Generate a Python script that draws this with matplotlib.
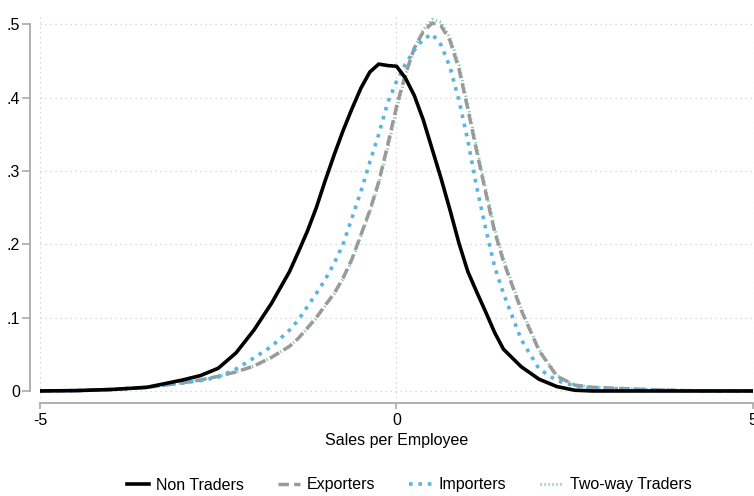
import numpy as np
import matplotlib
matplotlib.use("Agg")
import matplotlib.pyplot as plt

plt.rcParams['font.family'] = ['Liberation Sans', 'DejaVu Sans']

# shared x grid (sales per employee), finer around the peaks
x_left = [-5, -4.5, -4, -3.5, -3, -2.75, -2.5, -2.25, -2, -1.75]
x_mid = [-1.5, -1.375, -1.25, -1.125, -1, -0.875, -0.75, -0.625, -0.5,
         -0.375, -0.25, -0.125, 0, 0.125, 0.25, 0.375, 0.5, 0.625, 0.75,
         0.875, 1, 1.125, 1.25, 1.375, 1.5]
x_right = [1.75, 2, 2.25, 2.5, 2.75, 3, 3.5, 4, 4.5, 5]
x = x_left + x_mid + x_right

non_traders = ([0, 0.0005, 0.002, 0.005, 0.015, 0.021, 0.031, 0.052, 0.083, 0.120]
               + [0.163, 0.190, 0.218, 0.250, 0.287, 0.322, 0.355, 0.385, 0.413,
                  0.435, 0.446, 0.444, 0.443, 0.427, 0.403, 0.370, 0.330, 0.290,
                  0.247, 0.202, 0.163, 0.135, 0.108, 0.080, 0.057]
               + [0.033, 0.016, 0.006, 0.001, 0, 0, 0, 0, 0, 0])
exporters = ([0, 0.0005, 0.002, 0.005, 0.011, 0.015, 0.020, 0.026, 0.034, 0.046]
             + [0.061, 0.072, 0.086, 0.100, 0.117, 0.133, 0.154, 0.180, 0.213,
                0.246, 0.285, 0.335, 0.388, 0.432, 0.468, 0.490, 0.502, 0.498,
                0.478, 0.440, 0.385, 0.327, 0.271, 0.218, 0.177]
             + [0.110, 0.055, 0.020, 0.008, 0.005, 0.004, 0.002, 0.0005, 0, 0])
importers = ([0, 0.0005, 0.002, 0.005, 0.011, 0.014, 0.019, 0.030, 0.045, 0.061]
             + [0.083, 0.097, 0.115, 0.133, 0.152, 0.174, 0.200, 0.236, 0.272,
                0.312, 0.350, 0.393, 0.422, 0.446, 0.465, 0.480, 0.487, 0.472,
                0.442, 0.397, 0.342, 0.278, 0.222, 0.170, 0.133]
             + [0.070, 0.030, 0.014, 0.007, 0.004, 0.003, 0.002, 0.0005, 0, 0])
two_way = ([0, 0.0005, 0.002, 0.005, 0.011, 0.015, 0.020, 0.026, 0.034, 0.046]
           + [0.061, 0.072, 0.085, 0.099, 0.116, 0.132, 0.153, 0.178, 0.211,
              0.244, 0.282, 0.330, 0.383, 0.430, 0.467, 0.493, 0.507, 0.503,
              0.482, 0.445, 0.390, 0.332, 0.276, 0.222, 0.180]
           + [0.112, 0.056, 0.021, 0.008, 0.005, 0.004, 0.002, 0.0005, 0, 0])

yticks = [0, 0.1, 0.2, 0.3, 0.4, 0.5]
ytick_labels = ['0', '.1', '.2', '.3', '.4', '.5']
xticks = [-5, 0, 5]

fig = plt.figure(figsize=(7.54, 4.96), dpi=100)
ax = fig.add_axes([40 / 754, 97.7 / 496, 713 / 754, 384.8 / 496])

ax.plot(x, two_way, color='#7cc8b0', lw=2.2, ls=(0, (0.4, 0.9)),
        label='Two-way Traders', zorder=2)
ax.plot(x, exporters, color='#9a9a9a', lw=2.5, ls=(0, (3, 1.5)),
        label='Exporters', zorder=3)
ax.plot(x, importers, color='#5ab4e0', lw=2.6, ls=(0, (1, 1.6)),
        label='Importers', zorder=4)
ax.plot(x, non_traders, color='black', lw=2.6, label='Non Traders', zorder=5)

ax.set_xlim(-5, 5)
ax.set_ylim(-0.01, 0.515)
ax.set_yticks(yticks)
ax.set_yticklabels(ytick_labels)
ax.set_xticks(xticks)
ax.set_xticklabels(['-5', '0', '5'])

ax.grid(True, color='#cfcfcf', ls=(0, (1, 3)), lw=0.9)

for s in ['top', 'right']:
    ax.spines[s].set_visible(False)
ax.spines['left'].set_position(('outward', 7.5))
ax.spines['bottom'].set_position(('outward', 3.4))
ax.spines['left'].set_bounds(0, 0.5)
ax.spines['bottom'].set_bounds(-5, 5)
for s in ['left', 'bottom']:
    ax.spines[s].set_color('#aaaaaa')
    ax.spines[s].set_linewidth(1.3)
ax.tick_params(axis='both', colors='#aaaaaa', width=1.2,
               labelcolor='black', labelsize=11.5)
ax.tick_params(axis='y', length=6, pad=1)
ax.tick_params(axis='x', length=4, pad=3)

ax.set_xlabel('Sales per Employee', fontsize=11.5, labelpad=4)

handles, labels = ax.get_legend_handles_labels()
order = [3, 1, 2, 0]
fig.legend([handles[i] for i in order], [labels[i] for i in order],
           loc='center', bbox_to_anchor=(409 / 754, 11 / 496), ncol=4,
           frameon=False, fontsize=11.5, handlelength=1.4, handletextpad=0.45,
           columnspacing=2.1)

fig.savefig('out.png', dpi=100)
